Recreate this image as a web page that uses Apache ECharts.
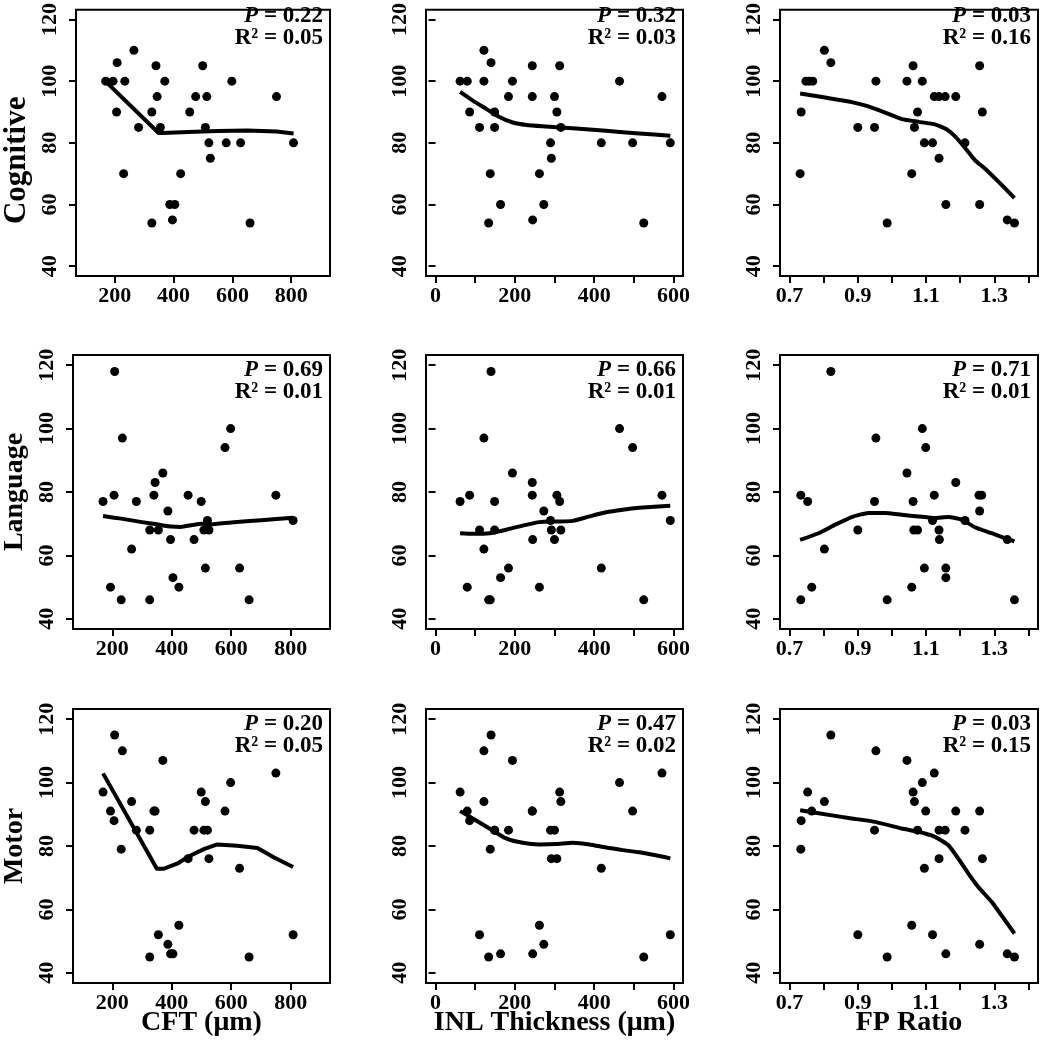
<!DOCTYPE html>
<html><head><meta charset="utf-8">
<script src="https://cdn.jsdelivr.net/npm/echarts@6/dist/echarts.min.js"></script>
<style>html,body{margin:0;padding:0;background:#fff}#c{width:1042px;height:1050px}</style>
</head><body><div id="c"></div>
<script>
// ---------- DATA ----------
// CFT (µm) — shared by the three outcome rows
const cftX    = [169,194,206,208,230,234,265,281,326,326,340,344,355,370,387,396,404,424,455,475,499,508,513,520,525,579,598,628,660,750,808];
const cftCog  = [100,100,90,106,70,100,110,85,90,54,105,95,85,100,60,55,60,70,90,95,105,85,95,80,75,80,100,80,54,95,80];
const cftLang = [77,50,79,118,46,97,62,77,68,46,79,83,68,86,74,65,53,50,79,65,77,68,56,71,68,94,100,56,46,79,71];
const cftMot  = [97,91,88,115,79,110,94,85,85,45,91,91,52,107,49,46,46,55,76,85,97,85,94,85,76,91,100,73,45,103,52];

// INL thickness (µm)
const inlX    = [62,80,86,111,122,122,134,138,140,149,149,164,184,194,244,244,245,262,273,290,292,300,306,313,316,418,464,497,525,571,592];
const inlCog  = [100,100,90,85,110,100,54,70,106,90,85,60,95,100,105,95,55,70,60,80,75,95,90,105,85,80,100,80,54,95,80];
const inlLang = [77,50,79,68,97,62,46,46,118,77,68,53,56,86,83,79,65,50,74,71,68,65,79,77,68,56,100,94,46,79,71];
const inlMot  = [97,91,88,52,110,94,45,79,115,85,85,46,85,107,91,91,46,55,49,85,76,85,76,97,94,73,100,91,45,103,52];

// FP ratio
const fpCogX  = [0.731,0.734,0.748,0.758,0.768,0.802,0.821,0.900,0.949,0.953,0.986,1.044,1.058,1.062,1.066,1.075,1.089,1.095,1.119,1.124,1.138,1.138,1.156,1.158,1.187,1.214,1.257,1.257,1.265,1.338,1.359];
const fpCogY  = [70,90,100,100,100,110,106,85,85,100,54,100,70,105,85,90,100,80,80,95,95,75,95,60,95,80,105,60,90,55,54];
const fpLangX = [0.733,0.733,0.753,0.765,0.802,0.821,0.900,0.949,0.953,0.986,1.044,1.058,1.062,1.064,1.075,1.089,1.095,1.099,1.119,1.124,1.138,1.139,1.158,1.158,1.187,1.214,1.255,1.263,1.257,1.338,1.359];
const fpLangY = [79,46,77,50,62,118,68,77,97,46,86,50,77,68,68,100,56,94,71,79,68,65,56,53,83,71,79,79,74,65,46];
const fpMotX  = [0.733,0.734,0.753,0.765,0.802,0.821,0.900,0.949,0.953,0.986,1.044,1.058,1.062,1.066,1.075,1.089,1.095,1.099,1.119,1.124,1.138,1.138,1.156,1.158,1.187,1.214,1.257,1.257,1.265,1.338,1.359];
const fpMotY  = [79,88,97,91,94,115,52,85,110,45,107,55,97,94,85,100,73,91,52,103,76,85,85,46,91,85,91,49,76,46,45];

// LOESS fit curves
const cftCogFitX  = [172,349,362,450,550,650,750,808];
const cftCogFitY  = [99.6,83.2,83.2,83.5,83.8,84.0,83.7,83.0];
const inlCogFitX  = [62,94,128,161,195,229,279,346,430,514,592];
const inlCogFitY  = [96.5,93.7,91.0,88.4,86.6,85.8,85.3,84.7,83.9,83.0,82.3];
const fpCogFitX   = [0.731,0.804,0.882,0.931,0.980,1.029,1.078,1.126,1.160,1.185,1.214,1.243,1.273,1.312,1.359];
const fpCogFitY   = [96.0,94.7,93.2,91.8,89.8,87.7,86.8,86.0,84.4,82.1,78.4,74.4,71.6,67.4,62.1];
const cftLangFitX = [169,230,300,350,400,430,470,500,530,600,700,808];
const cftLangFitY = [72.4,71.6,70.5,69.8,69.1,69.0,69.6,70.0,69.8,70.4,71.1,71.9];
const inlLangFitX = [62,94,136,178,220,262,304,346,388,430,472,514,592];
const inlLangFitY = [67.0,66.8,67.0,68.1,69.4,70.5,70.7,70.9,72.3,73.6,74.4,75.0,75.7];
const fpLangFitX  = [0.731,0.785,0.834,0.882,0.931,0.980,1.029,1.078,1.126,1.165,1.204,1.243,1.292,1.359];
const fpLangFitY  = [64.9,67.0,69.7,72.1,73.4,73.4,72.8,72.3,71.8,72.1,71.3,68.9,67.0,64.4];
const cftMotFitX  = [169,350,372,420,455,508,553,620,688,744,808];
const cftMotFitY  = [102.9,72.8,72.8,74.5,76.6,79.0,80.5,80.1,79.4,76.4,73.4];
const inlMotFitX  = [62,94,136,178,220,262,304,346,388,430,472,514,592];
const inlMotFitY  = [91.0,88.7,85.5,82.4,81.0,80.5,80.6,81.0,80.5,79.5,78.7,78.0,76.1];
const fpMotFitX   = [0.731,0.785,0.882,0.951,1.029,1.078,1.126,1.165,1.194,1.224,1.253,1.292,1.359];
const fpMotFitY   = [91.3,90.3,88.7,87.6,85.5,84.5,82.9,80.3,76.1,71.3,67.1,62.4,52.4];

// axis ticks / labels
const cftTicks = [200,400,600,800];
const cftLabels = [200,400,600,800];
const inlTicks = [0,100,200,300,400,500,600];
const inlLabels = [0,200,400,600];
const fpTicks = [0.7,0.8,0.9,1.0,1.1,1.2,1.3,1.4];
const fpLabels = [0.7,0.9,1.1,1.3];
const yTicks = [40,60,80,100,120];

const xTitles = ['CFT (μm)','INL Thickness (μm)','FP Ratio'];
const yTitles = ['Cognitive','Language','Motor'];
const pValues = ['0.22','0.32','0.03','0.69','0.66','0.71','0.20','0.47','0.03'];
const r2Values = ['0.05','0.03','0.16','0.01','0.01','0.01','0.05','0.02','0.15'];

// ---------- LAYOUT ----------
const FONT = '"Liberation Serif","Times New Roman",serif';
const cols = [
  {left:72,  width:258, min:68,    max:932,   ticks:cftTicks, labels:cftLabels},
  {left:426, width:257, min:-24,   max:624,   ticks:inlTicks, labels:inlLabels},
  {left:780, width:258, min:0.672, max:1.428, ticks:fpTicks,  labels:fpLabels}
];
const rows = [
  {top:1,   height:275},
  {top:355, height:274},
  {top:709, height:274}
];
const points = [
  [cftX,cftCog],[inlX,inlCog],[fpCogX,fpCogY],
  [cftX,cftLang],[inlX,inlLang],[fpLangX,fpLangY],
  [cftX,cftMot],[inlX,inlMot],[fpMotX,fpMotY]
];
const fits = [
  [cftCogFitX,cftCogFitY],[inlCogFitX,inlCogFitY],[fpCogFitX,fpCogFitY],
  [cftLangFitX,cftLangFitY],[inlLangFitX,inlLangFitY],[fpLangFitX,fpLangFitY],
  [cftMotFitX,cftMotFitY],[inlMotFitX,inlMotFitY],[fpMotFitX,fpMotFitY]
];
const fitSmooth = [false,0.2,0.12, 0.2,0.2,0.15, false,0.2,0.12];
const zip = (a,b) => a.map((v,i)=>[v,b[i]]);

const grid=[], xAxis=[], yAxis=[], series=[], graphic=[];
for (let r=0;r<3;r++){
  for (let c=0;c<3;c++){
    const i=r*3+c, C=cols[c], R=rows[r];
    grid.push({left:C.left, top:R.top, width:C.width, height:R.height,
      show:true, borderColor:'#000', borderWidth:2, backgroundColor:'transparent'});
    xAxis.push({gridIndex:i, type:'value', min:C.min, max:C.max,
      splitLine:{show:false}, axisLine:{show:false},
      axisTick:{show:true, length:7, customValues:C.ticks, lineStyle:{color:'#000', width:2}},
      axisLabel:{customValues:C.labels, color:'#000', fontFamily:FONT, fontWeight:'bold', fontSize:22, margin:9},
      name: r===2 ? xTitles[c] : '', nameLocation:'middle', nameGap:26, nameMoveOverlap:false,
      nameTextStyle:{color:'#000', fontFamily:FONT, fontWeight:'bold', fontSize:28}
    });
    yAxis.push({gridIndex:i, type:'value', min:36.8, max:123.2,
      splitLine:{show:false}, axisLine:{show:false},
      axisTick:{show:true, length:7, customValues:yTicks, lineStyle:{color:'#000', width:2}},
      axisLabel:{customValues:yTicks, rotate:90, color:'#000', fontFamily:FONT, fontWeight:'bold', fontSize:22, margin:15},
      name: c===0 ? yTitles[r] : '', nameLocation:'middle', nameGap:44, nameRotate:90,
      nameTextStyle:{color:'#000', fontFamily:FONT, fontWeight:'bold', fontSize: r===0 ? 31 : 28,
        padding: r===0 ? [0,35,0,0] : 0}
    });
    series.push({type:'scatter', xAxisIndex:i, yAxisIndex:i, data:zip(points[i][0],points[i][1]),
      symbol:'circle', symbolSize:9, itemStyle:{color:'#000', opacity:1}, silent:true, z:2});
    series.push({type:'line', xAxisIndex:i, yAxisIndex:i, data:zip(fits[i][0],fits[i][1]),
      symbol:'none', showSymbol:false, smooth:fitSmooth[i], lineStyle:{color:'#000', width:4, join:'round', cap:'butt'}, silent:true, z:3});
    const rx = C.left + C.width - 7;
    graphic.push({type:'text', x:rx, y:R.top+15, z:10, style:{
      text:'{i|P} = '+pValues[i], fill:'#000', fontFamily:FONT, fontWeight:'bold', fontSize:23,
      align:'right', verticalAlign:'middle',
      rich:{i:{fontStyle:'italic', fontWeight:'bold', fontFamily:FONT, fontSize:23, fill:'#000'}}}});
    graphic.push({type:'text', x:rx, y:R.top+37, z:10, style:{
      text:'R² = '+r2Values[i], fill:'#000', fontFamily:FONT, fontWeight:'bold', fontSize:23,
      align:'right', verticalAlign:'middle'}});
  }
}

const chart = echarts.init(document.getElementById('c'), null, {renderer:'canvas'});
chart.setOption({animation:false, backgroundColor:'#fff', grid, xAxis, yAxis, series, graphic});
</script>
</body></html>
